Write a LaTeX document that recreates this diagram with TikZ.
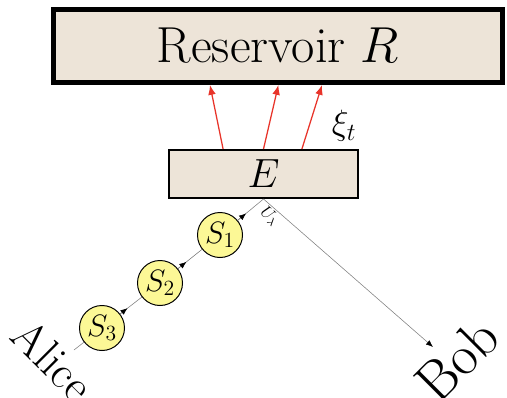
\RequirePackage{fix-cm}
\documentclass[tikz,border=0pt]{standalone}
\usepackage{amsmath, amssymb}
\usepackage{xcolor}
\usepackage{tikz}
\usetikzlibrary{arrows.meta, positioning, calc}

\definecolor{sand}{RGB}{237,228,216}
\definecolor{pale}{RGB}{252,248,150}
\definecolor{flow}{RGB}{232,52,42}

\begin{document}
\begin{tikzpicture}[
  x=0.025cm, y=0.025cm,
  box/.style={draw, fill=sand, inner sep=0pt},
  ring/.style={draw, circle, fill=pale, line width=0.7pt, minimum size=1.125cm, inner sep=0pt, font=\fontsize{22}{26}\selectfont},
  heat/.style={draw=flow, line width=0.9pt, -{Latex[length=7pt, width=5.5pt]}},
  wire/.style={gray, line width=0.4pt},
  tip/.style={wire, -{Latex[black, length=5pt, width=4pt]}},
  big/.style={font=\fontsize{36}{40}\selectfont}
]
\useasboundingbox (0,0) rectangle (507,397);

% Boxes
\node[box, line width=3.5pt, minimum width=11.225cm, minimum height=1.825cm, big] (res) at (278,351) {Reservoir $R$};
\node[box, line width=1.4pt, minimum width=4.725cm, minimum height=1.2cm, font=\fontsize{29}{32}\selectfont] (E) at (263.5,223) {$E$};

% Systems
\node[ring] (S1) at (220,162) {$S_1$};
\node[ring] (S2) at (160,114) {$S_2$};
\node[ring] (S3) at (102,69) {$S_3$};

% Ends
\coordinate (alice) at (74,47);
\coordinate (bob) at (433,50);
\node[font=\fontsize{33}{36}\selectfont, rotate=-45] (alicetxt) at (53,37) {Alice};
\node[font=\fontsize{40}{44}\selectfont, rotate=45] (bobtxt) at (457,37) {Bob};

% Heat flow
\draw[heat] ([xshift=-1.01cm]E.north) -- ([xshift=-1.7cm]res.south);
\draw[heat] (E.north) -- ([xshift=0.01cm]res.south);
\draw[heat] ([xshift=0.96cm]E.north) -- ([xshift=1.1cm]res.south);
\node[font=\fontsize{25}{28}\selectfont] (xi) at (344,271) {$\xi_t$};

% Pointers
\draw[wire] (alice) -- (S3);
\draw[wire] (S3) -- (S2);
\draw[wire] (S2) -- (S1);
\draw[wire] (S1) -- (E.south);
\draw[tip] (S3) -- ($(S3)!0.44!(S2)$);
\draw[tip] (S2) -- ($(S2)!0.44!(S1)$);
\draw[tip] (S1) -- ($(S1)!0.6!(E.south)$);
\draw[tip] (E.south) -- node[pos=0.07, sloped, below, black, font=\fontsize{12}{14}\selectfont, inner sep=1pt] {$U_\lambda$} (bob);
\end{tikzpicture}
\end{document}
